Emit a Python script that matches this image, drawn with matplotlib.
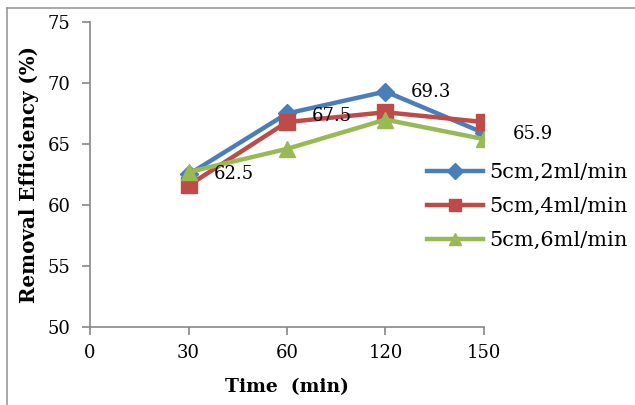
import matplotlib
matplotlib.use("Agg")
import matplotlib.pyplot as plt
from matplotlib.lines import Line2D

categories = ["0", "30", "60", "120", "150"]
x_data = [1, 2, 3, 4]
s1 = [62.5, 67.5, 69.3, 65.9]
s2 = [61.6, 66.8, 67.6, 66.8]
s3 = [62.7, 64.6, 67.0, 65.4]
names = ["5cm,2ml/min", "5cm,4ml/min", "5cm,6ml/min"]
colors = ["#4a7ebb", "#be4b48", "#98b954"]
markers = ["D", "s", "^"]
msizes = [9, 11, 12]
labels1 = ["62.5", "67.5", "69.3", "65.9"]

plt.rcParams['font.family'] = ['DejaVu Serif']

fig = plt.figure(figsize=(6.35, 4.05), dpi=100)
ax = fig.add_axes([90/635, 1-327/405, (484-90)/635, (327-22)/405])

for ys, c, m, ms, n in zip([s1, s2, s3], colors, markers, msizes, names):
    ax.plot(x_data, ys, color=c, lw=3.2, marker=m, markersize=ms, label=n)

offsets = [(18, 0), (18, -2), (18, 0), (21, -1)]
for xv, yv, t, off in zip(x_data, s1, labels1, offsets):
    ax.annotate(t, (xv, yv), xytext=off, textcoords="offset points",
                fontsize=13, ha="left", va="center")

ax.set_xlim(0, 4)
ax.set_ylim(50, 75)
ax.set_xticks(range(len(categories)))
ax.set_xticklabels(categories)
ax.set_yticks([50, 55, 60, 65, 70, 75])
for s in ["top", "right"]:
    ax.spines[s].set_visible(False)
for s in ["left", "bottom"]:
    ax.spines[s].set_color("#888888")
    ax.spines[s].set_linewidth(1.2)
ax.tick_params(axis="both", colors="#888888", length=6, width=1.2, labelsize=13, labelcolor="black")
ax.tick_params(axis="y", pad=8)
ax.tick_params(axis="x", pad=6)

ax.set_xlabel("Time  (min)", fontsize=13.5, fontweight="bold", labelpad=12)
ax.set_ylabel("Removal Efficiency (%)", fontsize=14.3, fontweight="bold", labelpad=6)

leg = ax.legend(loc="upper left", bbox_to_anchor=(0.835, 0.564), frameon=False,
                fontsize=15, handlelength=2.65, labelspacing=0.72, handletextpad=0.3,
                borderaxespad=0)
for h in leg.legend_handles:
    h.set_markersize(8)

fig.add_artist(Line2D([7/635, 7/635], [0, 1-7.5/405], transform=fig.transFigure,
                      color="#999999", lw=1.2))
fig.add_artist(Line2D([7/635, 1], [1-7.5/405, 1-7.5/405], transform=fig.transFigure,
                      color="#999999", lw=1.2))

fig.savefig("out.png", dpi=100)
